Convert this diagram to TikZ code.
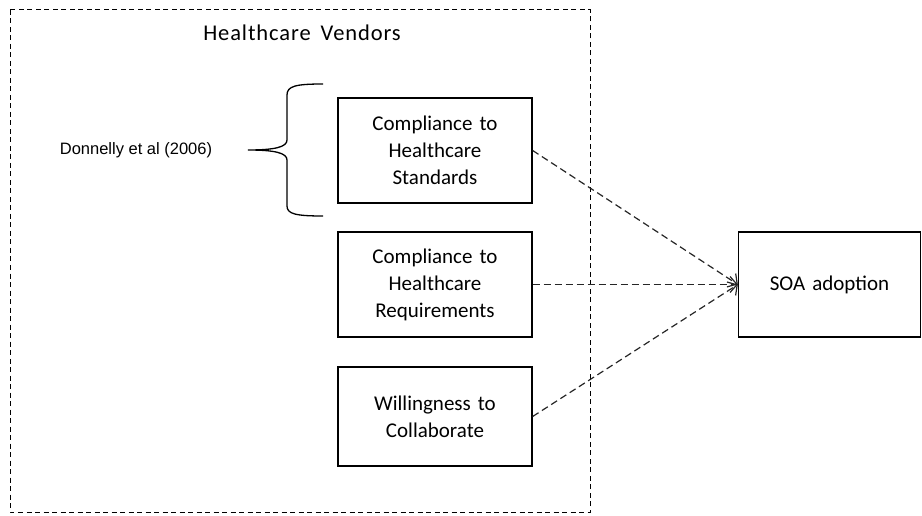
\documentclass[tikz,border=0pt]{standalone}
\usepackage{fontspec}
\setmainfont{Carlito}
\newfontfamily\citefont{Liberation Sans}
\usetikzlibrary{arrows.meta}

\begin{document}
\begin{tikzpicture}[x=1pt,y=-1pt,
  factor/.style={draw, line width=1.3pt, minimum width=194pt, minimum height=105pt,
    text width=180pt, align=center, font=\fontsize{21}{27}\selectfont, inner sep=0pt},
  link/.style={line width=1.2pt, dash pattern=on 7pt off 4pt,
    -{Straight Barb[length=7pt,width=16pt,line width=1.2pt]}, gray!30!black}]
\useasboundingbox (0,0) rectangle (922,516);
% vendor group
\draw [line width=1pt, dash pattern=on 5pt off 3.5pt] (10,10) rectangle (590,512);
\node (title) at (302,33) {\fontsize{22.5}{27}\selectfont\addfontfeatures{LetterSpace=4}Healthcare\hspace{10pt}Vendors};

\node [factor] (standards) at (435,150.5) {Compliance to\\Healthcare\\Standards};
\node [factor] (requirements) at (435,284.5) {Compliance to\\Healthcare\\Requirements};
\node [factor, minimum height=99pt] (collab) at (435,416.5) {Willingness to\\Collaborate};
\node [factor, minimum width=182pt, text width=170pt] (soa) at (829.5,284.5) {SOA adoption};

% citation and brace
\node (cite) at (136,150) {\citefont\fontsize{16.5}{20}\selectfont Donnelly et al (2006)};
\coordinate (tip) at (248,150);
\draw [line width=1.3pt] (323,84) .. controls (296,84) and (287,86) .. (287,95)
  -- (287,140) .. controls (287,147) and (275,150) .. (tip)
  .. controls (275,150) and (287,153) .. (287,160)
  -- (287,206) .. controls (287,214) and (296,216) .. (323,216);

% influences
\draw [link] (standards.east) -- (soa.west);
\draw [link] (requirements.east) -- (soa.west);
\draw [link] (collab.east) -- (soa.west);
\end{tikzpicture}
\end{document}
